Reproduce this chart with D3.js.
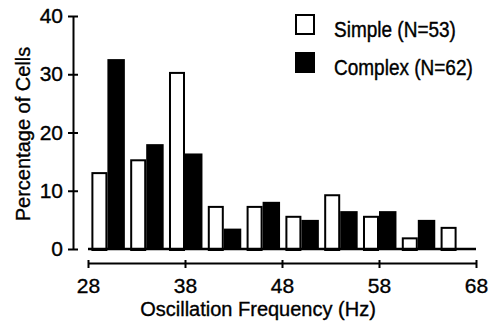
<!DOCTYPE html>
<html><head><meta charset="utf-8">
<script src="https://cdn.jsdelivr.net/npm/d3@7"></script>
<style>
body{margin:0;background:#fff;}
svg{display:block;font-family:"Liberation Sans",Arial,Helvetica,sans-serif;}
svg text{stroke:#000;stroke-width:0.35px;}
</style></head>
<body><svg id="c" width="493" height="322"></svg>
<script>
// Data (bin centres in Hz, percentage of cells)
const binCenters = [30, 34, 38, 42, 46, 50, 54, 58, 62, 66];
const simpleValues = [13.2, 15.4, 30.4, 7.4, 7.4, 5.7, 9.4, 5.7, 2.0, 3.8];
const complexValues = [32.6, 18.0, 16.4, 3.5, 8.1, 5.0, 6.5, 6.5, 5.0, null];
const xTicks = [28, 38, 48, 58, 68];
const yTicks = [0, 10, 20, 30, 40];
const seriesNames = ["Simple (N=53)", "Complex (N=62)"];

const svg = d3.select("#c");
const x = d3.scaleLinear().domain([28, 68]).range([88, 476]);
const y = d3.scaleLinear().domain([0, 40]).range([249, 16]);
const wWhite = 1.65, wBlack = 1.8;

// Bars: simple (white, left of centre)
svg.append("g").selectAll("rect").data(binCenters.map((c,i)=>({c,v:simpleValues[i]})).filter(d=>d.v!=null))
  .join("rect")
  .attr("x", d=>x(d.c - wWhite)+1)
  .attr("width", d=>x(d.c)-x(d.c-wWhite)-2)
  .attr("y", d=>y(d.v)+1)
  .attr("height", d=>y(0)-y(d.v))
  .attr("fill","#fff").attr("stroke","#000").attr("stroke-width",2);
// complex (black, right of centre)
svg.append("g").selectAll("rect").data(binCenters.map((c,i)=>({c,v:complexValues[i]})).filter(d=>d.v!=null))
  .join("rect")
  .attr("x", d=>x(d.c))
  .attr("width", d=>x(d.c+wBlack)-x(d.c))
  .attr("y", d=>y(d.v))
  .attr("height", d=>y(0)-y(d.v))
  .attr("fill","#000");

// baseline
svg.append("line").attr("x1",x(28)).attr("x2",x(68)).attr("y1",y(0)).attr("y2",y(0))
  .attr("stroke","#000").attr("stroke-width",2.5);

// Y axis
const yAxX = 73;
const gy = svg.append("g").attr("transform",`translate(${yAxX},0)`)
  .call(d3.axisLeft(y).tickValues(yTicks).tickSize(5).tickSizeOuter(0).tickPadding(5));
svg.append("g").attr("transform",`translate(${yAxX},0)`)
  .call(d3.axisRight(y).tickValues(yTicks).tickSize(5).tickSizeOuter(0).tickFormat(""))
  .select(".domain").remove();
gy.selectAll(".tick text").attr("font-size",21).attr("fill","#000").attr("font-family","Liberation Sans, Arial, sans-serif");

// X axis
const xAxY = 263;
const gx = svg.append("g").attr("transform",`translate(0,${xAxY})`)
  .call(d3.axisBottom(x).tickValues(xTicks).tickSize(5).tickSizeOuter(0).tickPadding(10));
const gx2 = svg.append("g").attr("transform",`translate(0,${xAxY})`)
  .call(d3.axisTop(x).tickValues(xTicks).tickSize(3).tickSizeOuter(0).tickFormat(""));
gx2.select(".domain").remove();
gx.selectAll(".tick text").attr("font-size",21).attr("fill","#000").attr("font-family","Liberation Sans, Arial, sans-serif");
svg.selectAll("path.domain").attr("stroke","#000").attr("stroke-width",2);
svg.selectAll(".tick line").attr("stroke","#000").attr("stroke-width",2);

// Axis titles
svg.append("text").attr("x",258).attr("y",316).attr("text-anchor","middle")
  .attr("font-size",20).attr("fill","#000").text("Oscillation Frequency (Hz)");
svg.append("text").attr("transform","translate(29.5,134) rotate(-90)").attr("text-anchor","middle")
  .attr("font-size",20).attr("fill","#000").text("Percentage of Cells");

// Legend
const leg = svg.append("g");
const legItems = [{name:seriesNames[0], fill:"#fff", y:14},{name:seriesNames[1], fill:"#000", y:52}];
legItems.forEach(d=>{
  leg.append("rect").attr("x",296).attr("y",d.y+1).attr("width",18).attr("height",19)
    .attr("fill",d.fill).attr("stroke","#000").attr("stroke-width",2);
  leg.append("text").attr("transform",`translate(334,${d.y+23}) scale(1,1.15)`)
    .attr("font-size",19).attr("fill","#000").text(d.name);
});
</script></body></html>
